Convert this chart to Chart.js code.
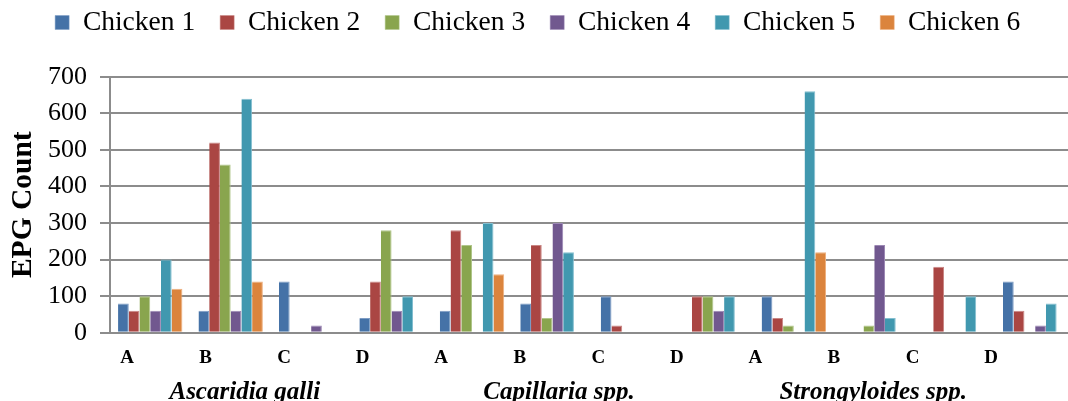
<!DOCTYPE html>
<html>
<head>
<meta charset="utf-8">
<script src="https://cdn.jsdelivr.net/npm/chart.js@4/dist/chart.umd.min.js"></script>
<style>
  html, body { margin: 0; padding: 0; background: #fff; }
  #wrap { width: 1068px; height: 401px; overflow: hidden; position: relative; }
  canvas { display: block; }
</style>
</head>
<body>
<div id="wrap"><canvas id="c" width="1076" height="401"></canvas></div>
<script>
// ---- data ----
const GROUPS = ['Ascaridia galli', 'Capillaria spp.', 'Strongyloides spp.'];
const STAGES = ['A', 'B', 'C', 'D'];
const CATEGORIES = GROUPS.flatMap(g => STAGES.map(s => s));
const SERIES = ['Chicken 1', 'Chicken 2', 'Chicken 3', 'Chicken 4', 'Chicken 5', 'Chicken 6'];
//                 Ascaridia galli      |   Capillaria spp.     |  Strongyloides spp.
//                 A    B    C    D       A    B    C    D       A    B    C    D
const chicken1 = [ 80,  60, 140,  40,     60,  80, 100,   0,    100,   0,   0, 140];
const chicken2 = [ 60, 520,   0, 140,    280, 240,  20, 100,     40,   0, 180,  60];
const chicken3 = [100, 460,   0, 280,    240,  40,   0, 100,     20,  20,   0,   0];
const chicken4 = [ 60,  60,  20,  60,      0, 300,   0,  60,      0, 240,   0,  20];
const chicken5 = [200, 640,   0, 100,    300, 220,   0, 100,    660,  40, 100,  80];
const chicken6 = [120, 140,   0,   0,    160,   0,   0,   0,    220,   0,   0,   0];
const Y_TICKS = [0, 100, 200, 300, 400, 500, 600, 700];

// ---- styles ----
const COLORS = ['#4572A7', '#AA4643', '#89A54E', '#71588F', '#4198AF', '#DB843D'];
const EDGES  = ['#7d9cc4', '#c98684', '#b0c68a', '#9c88b4', '#84bfd0', '#eeb07f'];
const SERIF = '"Liberation Serif", "Times New Roman", serif';
const GRID = '#8c8c8c';

const seriesValues = [chicken1, chicken2, chicken3, chicken4, chicken5, chicken6];
const categoryIndexes = CATEGORIES.map((_, i) => i);
const groupCenters = GROUPS.map((_, g) => {
  const first = g * STAGES.length, last = first + STAGES.length - 1;
  return (first + last) / 2;
});

const legendGap = {
  id: 'legendGap',
  afterInit(chart) {
    const lg = chart.legend;
    const orig = lg.fit.bind(lg);
    lg.fit = function () { orig(); this.height += 30.45; };
  }
};

new Chart(document.getElementById('c'), {
  type: 'bar',
  data: {
    labels: CATEGORIES,
    datasets: SERIES.map((name, i) => ({
      label: name,
      data: seriesValues[i],
      backgroundColor: COLORS[i],
      borderColor: EDGES[i],
      borderWidth: {top: 1, right: 1, left: 0, bottom: 0},
      categoryPercentage: 0.8,
      barPercentage: 1.0,
      xAxisID: 'x',
      yAxisID: 'y'
    }))
  },
  options: {
    responsive: false,
    animation: false,
    devicePixelRatio: 1,
    layout: { padding: { top: -16.25, left: 0, right: 0.6, bottom: 0 } },
    plugins: {
      tooltip: { enabled: false },
      legend: {
        position: 'top',
        align: 'center',
        labels: {
          font: { family: SERIF, size: 27.5 },
          color: '#000',
          boxWidth: 14,
          boxHeight: 14,
          padding: 25
        }
      }
    },
    scales: {
      x: {
        type: 'category',
        display: false,
        offset: true
      },
      x2: {
        type: 'linear',
        position: 'bottom',
        weight: 1,
        offset: false,
        min: -0.2164,
        max: 12.074,
        afterBuildTicks: (s) => { s.ticks = categoryIndexes.map(v => ({ value: v })); },
        afterFit: (s) => { s.height = 36; },
        grid: { display: false, drawTicks: false, tickLength: 0, offset: false },
        border: { display: false },
        ticks: {
          autoSkip: false,
          maxRotation: 0,
          padding: 13.5,
          color: '#000',
          font: { family: SERIF, size: 19, weight: 'bold' },
          callback: (v) => CATEGORIES[v] ?? ''
        }
      },
      x3: {
        type: 'linear',
        position: 'bottom',
        weight: 2,
        offset: false,
        min: -0.2164,
        max: 12.074,
        afterBuildTicks: (s) => { s.ticks = groupCenters.map(v => ({ value: v })); },
        afterFit: (s) => { s.height = 32.3; },
        grid: { display: false, drawTicks: false, tickLength: 0, offset: false },
        border: { display: false },
        ticks: {
          autoSkip: false,
          maxRotation: 0,
          padding: 8.5,
          color: '#000',
          font: { family: SERIF, size: 25, weight: 'bold', style: 'italic' },
          callback: (v) => GROUPS[groupCenters.indexOf(v)] ?? ''
        }
      },
      y: {
        type: 'linear',
        min: Y_TICKS[0],
        max: Y_TICKS[Y_TICKS.length - 1],
        afterBuildTicks: (s) => { s.ticks = Y_TICKS.map(v => ({ value: v })); },
        afterFit: (s) => { s.width = 110; },
        grid: { color: GRID, lineWidth: 2, tickLength: 10, drawTicks: true },
        border: { display: true, color: GRID, width: 2 },
        ticks: {
          padding: 13,
          color: '#000',
          font: { family: SERIF, size: 26 }
        },
        title: {
          display: true,
          text: 'EPG Count',
          color: '#000',
          font: { family: SERIF, size: 29.5, weight: 'bold' },
          padding: { top: 5.3, bottom: 0 }
        }
      }
    }
  },
  plugins: [legendGap]
});
</script>
</body>
</html>
